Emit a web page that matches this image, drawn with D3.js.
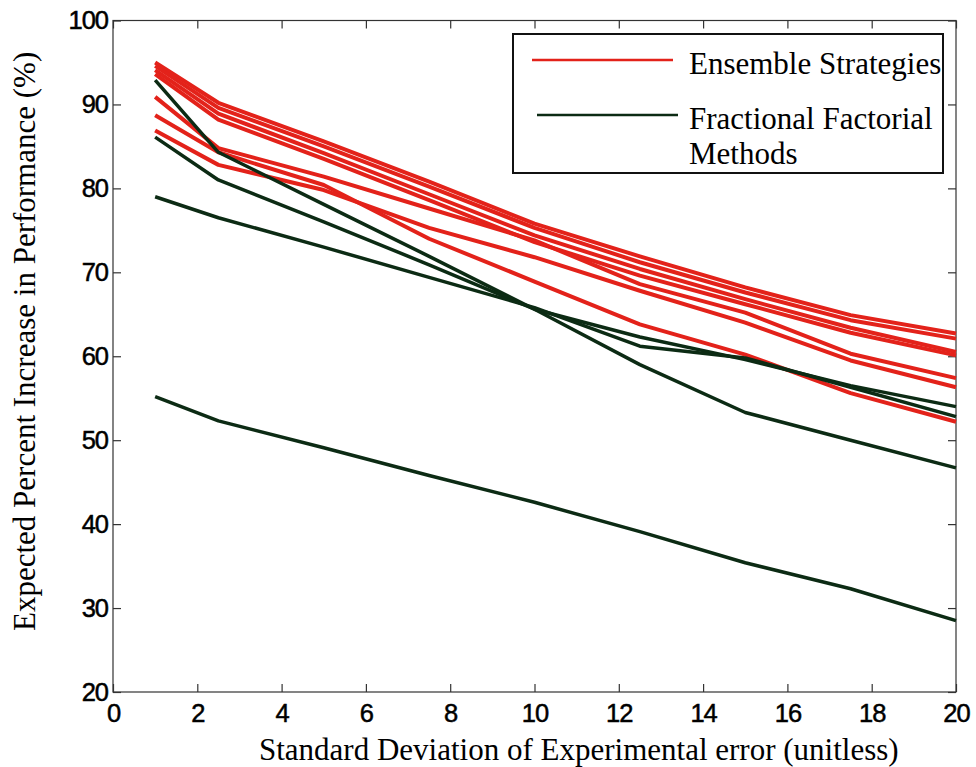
<!DOCTYPE html>
<html>
<head>
<meta charset="utf-8">
<script src="https://cdn.jsdelivr.net/npm/d3@7"></script>
<style>
  body { margin: 0; background: #fff; }
  .tick text { font-family: "Liberation Sans", Arial, sans-serif; }
</style>
</head>
<body>
<div id="chart"></div>
<script>
// standard deviation of experimental error, sampled at these points
const sdValues = [1, 2.5, 5, 7.5, 10, 12.5, 15, 17.5, 20];

// Ensemble strategies (red lines)
const ensembleSeries = [
  [95.0, 90.2, 85.6, 80.8, 75.8, 71.9, 68.2, 64.9, 62.7],
  [94.6, 89.6, 85.0, 80.2, 75.3, 71.2, 67.6, 64.3, 62.1],
  [94.1, 88.9, 84.2, 79.3, 74.4, 70.4, 66.8, 63.4, 60.5],
  [93.6, 88.2, 83.5, 78.6, 73.6, 69.6, 66.2, 62.8, 60.1],
  [90.9, 84.8, 81.4, 77.6, 73.8, 68.6, 65.2, 60.3, 57.4],
  [88.7, 84.3, 80.4, 74.0, 68.9, 63.8, 60.2, 55.6, 52.2],
  [86.9, 82.8, 79.8, 75.3, 71.8, 67.8, 64.0, 59.5, 56.3]
];

// Fractional factorial methods (dark green lines)
const factorialSeries = [
  [92.9, 84.3, 78.1, 71.9, 65.6, 59.0, 53.3, 50.0, 46.7],
  [86.1, 81.0, 76.0, 70.9, 65.6, 62.3, 59.6, 56.5, 54.0],
  [79.0, 76.5, 73.0, 69.4, 65.8, 61.2, 59.8, 56.3, 52.8],
  [55.2, 52.3, 49.1, 45.8, 42.6, 39.1, 35.4, 32.3, 28.5]
];

const xTicks = [0, 2, 4, 6, 8, 10, 12, 14, 16, 18, 20];
const yTicks = [20, 30, 40, 50, 60, 70, 80, 90, 100];

const legendItems = [
  {label: ['Ensemble Strategies'], color: '#e3221a'},
  {label: ['Fractional Factorial', 'Methods'], color: '#0c2b14'}
];

const redColor = '#e3221a', greenColor = '#0c2b14';

let width = 976, height = 767;

let svg = d3.select('#chart').append('svg')
    .attr('width', width)
    .attr('height', height)

let x = d3.scaleLinear().domain([0, 20]).range([113, 956])
let y = d3.scaleLinear().domain([20, 100]).range([692, 20.5])

let serif = '"Liberation Serif", "Times New Roman", serif'

// plot frame
svg.append('rect')
    .attr('x', x(0))
    .attr('y', y(100))
    .attr('width', x(20) - x(0))
    .attr('height', y(20) - y(100))
    .attr('fill', 'none')
    .attr('stroke', '#333')
    .attr('stroke-width', 1.2)

let axisStyle = function(g){
    g.select('.domain').remove()
    g.selectAll('.tick line').attr('stroke', '#333').attr('stroke-width', 1.2)
    g.selectAll('.tick text')
        .attr('fill', '#000')
        .attr('stroke', '#000')
        .attr('stroke-width', 0.5)
        .attr('font-size', 25.5)
        .attr('letter-spacing', -1)
}

svg.append('g')
    .attr('transform', 'translate(0,' + y(20) + ')')
    .call(d3.axisBottom(x).tickValues(xTicks).tickSize(-8).tickPadding(12).tickFormat(d3.format('d')))
    .call(axisStyle)

svg.append('g')
    .attr('transform', 'translate(' + x(0) + ',0)')
    .call(d3.axisLeft(y).tickValues(yTicks).tickSize(-8).tickPadding(5).tickFormat(d3.format('d')))
    .call(axisStyle)

svg.append('g')
    .attr('transform', 'translate(0,' + y(100) + ')')
    .call(d3.axisTop(x).tickValues(xTicks).tickSize(-8).tickFormat(''))
    .call(axisStyle)

svg.append('g')
    .attr('transform', 'translate(' + x(20) + ',0)')
    .call(d3.axisRight(y).tickValues(yTicks).tickSize(-8).tickFormat(''))
    .call(axisStyle)

let line = d3.line()
    .x(function(d, i){ return x(sdValues[i]) })
    .y(function(d){ return y(d) })

svg.append('g')
    .selectAll('.ensemble')
    .data(ensembleSeries)
    .enter()
    .append('path')
    .attr('d', line)
    .attr('fill', 'none')
    .attr('stroke', redColor)
    .attr('stroke-width', 4)
    .attr('stroke-linejoin', 'round')

svg.append('g')
    .selectAll('.factorial')
    .data(factorialSeries)
    .enter()
    .append('path')
    .attr('d', line)
    .attr('fill', 'none')
    .attr('stroke', greenColor)
    .attr('stroke-width', 3.5)
    .attr('stroke-linejoin', 'round')

// axis titles
svg.append('text')
    .attr('x', 259)
    .attr('y', 760)
    .attr('font-family', serif)
    .attr('font-size', 31)
    .text('Standard Deviation of Experimental error (unitless)')

svg.append('text')
    .attr('transform', 'translate(35,631) rotate(-90)')
    .attr('font-family', serif)
    .attr('font-size', 31)
    .text('Expected Percent Increase in Performance (%)')

// legend
let legend = svg.append('g')

legend.append('rect')
    .attr('x', 513)
    .attr('y', 34)
    .attr('width', 430)
    .attr('height', 139)
    .attr('fill', '#fff')
    .attr('stroke', '#111')
    .attr('stroke-width', 2)

let items = legend.selectAll('.legend_item')
    .data(legendItems)
    .enter()
    .append('g')
    .attr('transform', function(d, i){ return 'translate(0,' + (i == 0 ? 60 : 115) + ')' })

items.append('line')
    .attr('x1', function(d, i){ return i == 0 ? 532 : 537 })
    .attr('x2', function(d, i){ return i == 0 ? 673 : 678 })
    .attr('stroke', function(d){ return d.color })
    .attr('stroke-width', 2.5)

items.each(function(d){
    let t = d3.select(this).append('text')
        .attr('font-family', serif)
        .attr('font-size', 31)
        .attr('fill', '#000')
    d.label.forEach(function(s, k){
        t.append('tspan')
            .attr('x', 689)
            .attr('y', 14 + k * 35)
            .text(s)
    })
})
</script>
</body>
</html>
